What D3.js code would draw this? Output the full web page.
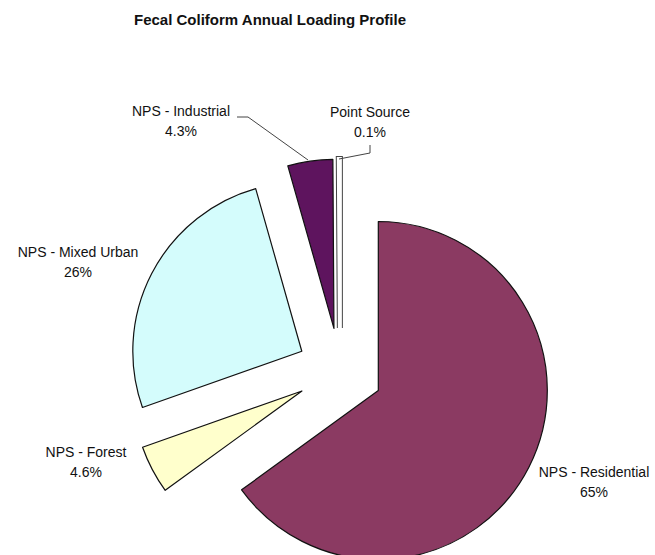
<!DOCTYPE html>
<html>
<head>
<meta charset="utf-8">
<script src="https://cdn.jsdelivr.net/npm/d3@7"></script>
<style>
  body { margin: 0; background: #fff; }
  text { font-family: "Liberation Sans", Arial, sans-serif; fill: #111; }
</style>
</head>
<body>
<script>
// data, clockwise from 12 o'clock
const categories = ['NPS - Residential', 'NPS - Forest', 'NPS - Mixed Urban', 'NPS - Industrial', 'Point Source']
const shares = [65, 4.6, 26, 4.3, 0.1]
const shareLabels = ['65%', '4.6%', '26%', '4.3%', '0.1%']
const colors = ['#8b3a62', '#ffffcc', '#d4fcfc', '#5e145e', '#ffffff']

const width = 655
const height = 555
const cx = 340
const cy = 371
const radius = 169
const explode = 43

// label anchors (text centre x, first baseline y)
const labelPos = [
  [594, 477],
  [86, 457],
  [78, 257],
  [181, 116],
  [370, 117]
]
// leader lines for the small top slices
const leaders = {
  3: [[237, 117], [248, 117], [308, 160]],
  4: [[370, 145], [370, 153], [339, 159]]
}

const svg = d3.select('body')
  .append('svg')
  .attr('width', width)
  .attr('height', height)

svg.append('text')
  .attr('x', 270)
  .attr('y', 25)
  .attr('text-anchor', 'middle')
  .style('font-size', '15px')
  .style('font-weight', 'bold')
  .text('Fecal Coliform Annual Loading Profile')

const pie = d3.pie().sort(null).value(d => d)
const arcs = pie(shares)
const arc = d3.arc().innerRadius(0).outerRadius(radius)

const g = svg.append('g').attr('transform', `translate(${cx},${cy})`)

const slices = g.selectAll('g.slice')
  .data(arcs)
  .join('g')
  .attr('class', 'slice')
  .attr('transform', d => {
    const mid = (d.startAngle + d.endAngle) / 2
    return `translate(${Math.sin(mid) * explode},${-Math.cos(mid) * explode})`
  })

slices.each(function (d, i) {
  const s = d3.select(this)
  if (i === 4) {
    // the 0.1% sliver shows as a double outline
    s.append('path').attr('d', arc(d))
      .attr('fill', 'none').attr('stroke', '#444').attr('stroke-width', 6)
      .attr('stroke-linejoin', 'miter')
    s.append('path').attr('d', arc(d))
      .attr('fill', '#fff').attr('stroke', '#fff').attr('stroke-width', 4)
  } else {
    s.append('path').attr('d', arc(d))
      .attr('fill', colors[i])
      .attr('stroke', '#111')
      .attr('stroke-width', 1.2)
      .attr('stroke-linejoin', 'round')
  }
})

// leader lines
Object.keys(leaders).forEach(k => {
  svg.append('path')
    .attr('d', d3.line()(leaders[k]))
    .attr('fill', 'none')
    .attr('stroke', '#444')
    .attr('stroke-width', 1)
})

// labels
categories.forEach((c, i) => {
  const t = svg.append('text')
    .attr('x', labelPos[i][0])
    .attr('y', labelPos[i][1])
    .attr('text-anchor', 'middle')
    .style('font-size', '14px')
  t.append('tspan').attr('x', labelPos[i][0]).text(c)
  t.append('tspan').attr('x', labelPos[i][0]).attr('dy', 20).text(shareLabels[i])
})
</script>
</body>
</html>
